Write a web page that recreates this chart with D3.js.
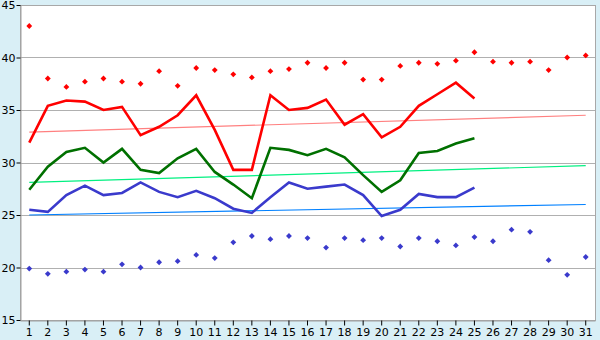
<!DOCTYPE html>
<html><head><meta charset="utf-8">
<script src="https://cdn.jsdelivr.net/npm/d3@7"></script>
<style>html,body{margin:0;padding:0;background:#d9eff6;}svg{display:block;}</style>
</head><body>
<svg id="c" width="600" height="340"></svg>
<script>
const days = d3.range(1, 32);
const maxPoints = [43.0,38.0,37.2,37.7,38.0,37.7,37.5,38.7,37.3,39.0,38.8,38.4,38.1,38.7,38.9,39.5,39.0,39.5,37.9,37.9,39.2,39.5,39.4,39.7,40.5,39.6,39.5,39.6,38.8,40.0,40.2];
const minPoints = [19.9,19.4,19.6,19.8,19.6,20.3,20.0,20.5,20.6,21.2,20.9,22.4,23.0,22.7,23.0,22.8,21.9,22.8,22.6,22.8,22.0,22.8,22.5,22.1,22.9,22.5,23.6,23.4,20.7,19.3,21.0];
const maxLine = [31.9,35.4,35.9,35.8,35.0,35.3,32.6,33.4,34.5,36.4,33.1,29.3,29.3,36.4,35.0,35.2,36.0,33.6,34.6,32.4,33.4,35.4,36.5,37.6,36.1];
const meanLine = [27.4,29.6,31.0,31.4,30.0,31.3,29.3,29.0,30.4,31.3,29.1,27.9,26.6,31.4,31.2,30.7,31.3,30.5,28.8,27.2,28.3,30.9,31.1,31.8,32.3];
const minLine = [25.5,25.3,26.9,27.8,26.9,27.1,28.1,27.2,26.7,27.3,26.6,25.6,25.2,26.7,28.1,27.5,27.7,27.9,26.9,24.9,25.5,27.0,26.7,26.7,27.6];
const maxTrend = [32.9,34.5];
const meanTrend = [28.1,29.7];
const minTrend = [25.0,26.0];
const yTicks = [15,20,25,30,35,40,45];

const svg = d3.select("#c");
const L=20, R=595, T=5, B=320;
const x = d3.scaleBand().domain(days).range([L,R]);
const cx = d => x(d) + x.bandwidth()/2;
const y = d3.scaleLinear().domain([15,45]).range([B,T]);

svg.append("rect").attr("x",L+0.5).attr("y",T+0.5).attr("width",R-L).attr("height",B-T).attr("fill","#fff").attr("stroke","#a8a8a8").attr("stroke-width",1);

svg.append("g").selectAll("line").data(yTicks.filter(v=>v>15&&v<45)).join("line")
  .attr("x1",L).attr("x2",R).attr("y1",d=>Math.round(y(d))+0.5).attr("y2",d=>Math.round(y(d))+0.5)
  .attr("stroke","#b0b0b0").attr("stroke-width",1);

const gy = svg.append("g").attr("transform",`translate(${L+0.5},0)`)
  .call(d3.axisLeft(y).tickValues(yTicks).tickSize(4).tickSizeOuter(0).tickPadding(1));
const gx = svg.append("g").attr("transform",`translate(0,${B+0.5})`)
  .call(d3.axisBottom(x).tickSize(5).tickSizeOuter(0).tickPadding(3));
[gy,gx].forEach(g=>{
  g.selectAll(".domain").attr("stroke","#a0a0a0");
  g.selectAll(".tick line").attr("stroke","#000");
  g.selectAll("text").attr("font-family","DejaVu Sans, Verdana, sans-serif").attr("fill","#000");
});
gy.selectAll("text").attr("font-size","11px");
gx.selectAll("text").attr("font-size","11px");

function trend(vals,color){
  svg.append("line").attr("x1",cx(1)).attr("x2",cx(31)).attr("y1",y(vals[0])).attr("y2",y(vals[1]))
    .attr("stroke",color).attr("stroke-width",1.2);
}
trend(maxTrend,"#ff8080");
trend(meanTrend,"#00f080");
trend(minTrend,"#0080ff");

const line = d3.line().x((d,i)=>cx(i+1)).y(d=>y(d));
function series(vals,color){
  svg.append("path").attr("d",line(vals)).attr("fill","none").attr("stroke",color).attr("stroke-width",2.6).attr("stroke-linejoin","miter");
}
series(maxLine,"#ff0000");
series(meanLine,"#007000");
series(minLine,"#3a3acc");

const sym = d3.symbol().type(d3.symbolSquare).size(17);
function pts(vals,color){
  svg.append("g").selectAll("path").data(vals).join("path")
    .attr("d",sym).attr("transform",(d,i)=>`translate(${cx(i+1)},${y(d)}) rotate(45)`).attr("fill",color);
}
pts(maxPoints,"#ff0000");
pts(minPoints,"#3a3acc");
</script>
</body></html>
